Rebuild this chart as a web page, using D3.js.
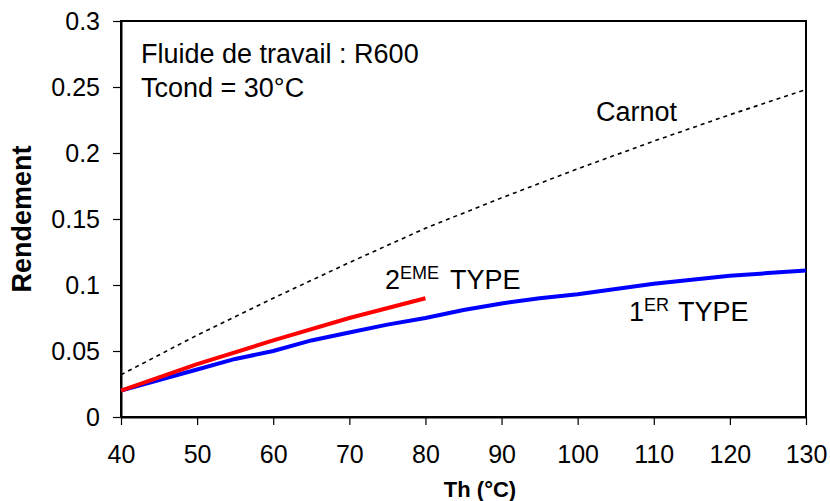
<!DOCTYPE html>
<html>
<head>
<meta charset="utf-8">
<script src="https://cdn.jsdelivr.net/npm/d3@7"></script>
<style>
  body { margin: 0; background: #fff; }
  text { font-family: "Liberation Sans", Arial, sans-serif; fill: #000; }
</style>
</head>
<body>
<svg id="chart" width="830" height="501"></svg>
<script>

// data
const thCarnot = [40, 50, 60, 70, 80, 90, 100, 110, 120, 130];
const carnot = [0.032, 0.062, 0.090, 0.117, 0.143, 0.166, 0.188, 0.209, 0.229, 0.248];

const th1er = [40, 45, 50, 55, 60, 65, 70, 75, 80, 85, 90, 95, 100, 105, 110, 115, 120, 125, 130];
const type1er = [0.020, 0.028, 0.036, 0.044, 0.050, 0.058, 0.064, 0.070, 0.075, 0.081, 0.086, 0.090, 0.093, 0.097, 0.101, 0.104, 0.107, 0.109, 0.111];

const th2eme = [40, 50, 60, 70, 80];
const type2eme = [0.020, 0.040, 0.058, 0.075, 0.090];

const xTicks = [40, 50, 60, 70, 80, 90, 100, 110, 120, 130];
const yTicks = [0, 0.05, 0.1, 0.15, 0.2, 0.25, 0.3];
const yTickLabels = ["0", "0.05", "0.1", "0.15", "0.2", "0.25", "0.3"];

const svg = d3.select("#chart");
const margin = { left: 121, top: 21, right: 24, bottom: 84 };
const width = 830 - margin.left - margin.right;
const height = 501 - margin.top - margin.bottom;

const g = svg.append("g")
    .attr("transform", "translate(" + margin.left + "," + margin.top + ")");

const x = d3.scaleLinear().domain([40, 130]).range([0, width]);
const y = d3.scaleLinear().domain([0, 0.3]).range([height, 0]);

// frame
g.append("rect")
    .attr("width", width)
    .attr("height", height)
    .attr("fill", "none")
    .attr("stroke", "#000")
    .attr("stroke-width", 2);

// x axis
const xAxis = g.append("g")
    .attr("transform", "translate(0," + height + ")")
    .call(d3.axisBottom(x).tickValues(xTicks).tickSize(8).tickSizeOuter(0).tickPadding(20));
xAxis.select(".domain").attr("stroke-width", 2);
xAxis.selectAll(".tick line").attr("stroke-width", 1.2);
xAxis.selectAll("text").style("font-size", "25px").attr("fill", "#000");

// y axis
const yAxis = g.append("g")
    .call(d3.axisLeft(y).tickValues(yTicks).tickSize(8).tickSizeOuter(0).tickPadding(13)
        .tickFormat((d, i) => yTickLabels[i]));
yAxis.select(".domain").attr("stroke-width", 2);
yAxis.selectAll(".tick line").attr("stroke-width", 1.2);
yAxis.selectAll("text").style("font-size", "25px").attr("fill", "#000");

// lines
const line = d3.line()
    .x(d => x(d[0]))
    .y(d => y(d[1]));

g.append("path")
    .datum(d3.zip(thCarnot, carnot))
    .attr("fill", "none")
    .attr("stroke", "#000")
    .attr("stroke-width", 1.6)
    .attr("stroke-dasharray", "4,4")
    .attr("d", line);

g.append("path")
    .datum(d3.zip(th1er, type1er))
    .attr("fill", "none")
    .attr("stroke", "#0000ff")
    .attr("stroke-width", 4)
    .attr("d", line);

g.append("path")
    .datum(d3.zip(th2eme, type2eme))
    .attr("fill", "none")
    .attr("stroke", "#ff0000")
    .attr("stroke-width", 4)
    .attr("d", line);

// annotations
svg.append("text")
    .attr("x", 141).attr("y", 63)
    .style("font-size", "27px")
    .text("Fluide de travail : R600");
svg.append("text")
    .attr("x", 141).attr("y", 97)
    .style("font-size", "27px")
    .text("Tcond = 30°C");

svg.append("text")
    .attr("x", 596).attr("y", 121)
    .style("font-size", "27px")
    .text("Carnot");

const t2 = svg.append("text")
    .attr("x", 385).attr("y", 289)
    .style("font-size", "27px");
t2.append("tspan").text("2");
t2.append("tspan").attr("dy", -10).style("font-size", "18px").text("EME");
t2.append("tspan").attr("dy", 10).attr("dx", 4).text(" TYPE");

const t1 = svg.append("text")
    .attr("x", 629).attr("y", 321)
    .style("font-size", "27px");
t1.append("tspan").text("1");
t1.append("tspan").attr("dy", -10).style("font-size", "18px").text("ER");
t1.append("tspan").attr("dy", 10).attr("dx", 2).text(" TYPE");

// axis titles
svg.append("text")
    .attr("x", 480).attr("y", 497)
    .attr("text-anchor", "middle")
    .style("font-size", "22px")
    .style("font-weight", "bold")
    .text("Th (°C)");

svg.append("text")
    .attr("transform", "translate(31," + (margin.top + height / 2) + ") rotate(-90)")
    .attr("text-anchor", "middle")
    .style("font-size", "27px")
    .style("font-weight", "bold")
    .text("Rendement");
</script>
</body>
</html>
